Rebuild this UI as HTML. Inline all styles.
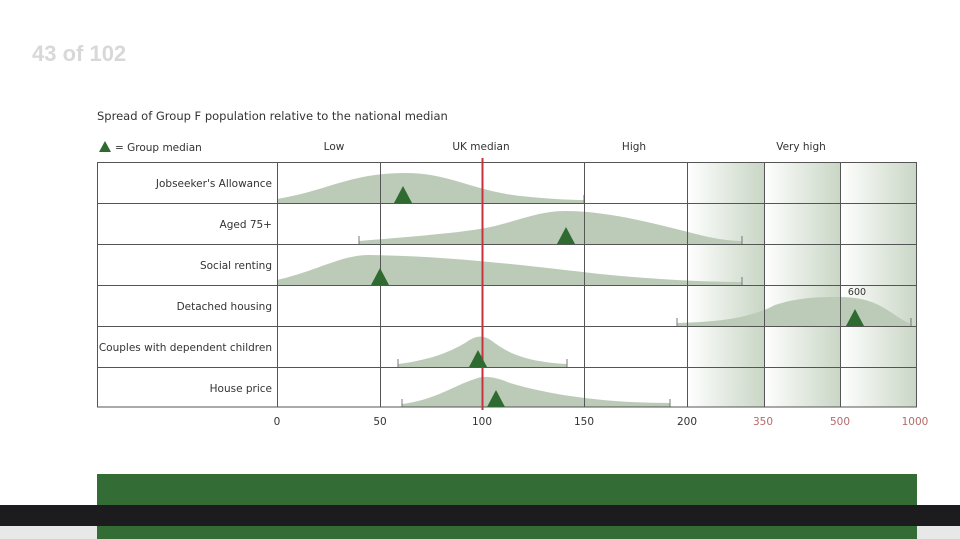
<!DOCTYPE html>
<html><head><meta charset="utf-8"><style>
html,body{margin:0;padding:0;background:#fff;width:960px;height:539px;overflow:hidden}
svg{display:block}
text{font-family:"DejaVu Sans","Liberation Sans",sans-serif}
</style></head><body>
<svg width="960" height="539" viewBox="0 0 960 539" xmlns="http://www.w3.org/2000/svg">
<defs>
<linearGradient id="g" x1="0" x2="1" y1="0" y2="0">
<stop offset="0" stop-color="#ffffff"/><stop offset="1" stop-color="#c9d6c5"/>
</linearGradient>
</defs>
<text x="32" y="61" font-size="22" fill="#d8d8d8" style="font-family:'Liberation Sans',sans-serif;font-weight:bold">43 of 102</text>
<text x="97" y="120" font-size="11.5" fill="#333">Spread of Group F population relative to the national median</text>
<polygon points="99,152 105,141 111,152" fill="#2f6b30"/>
<text x="115" y="151" font-size="10.5" fill="#333">= Group median</text>
<text x="334" y="150" font-size="10.5" fill="#333" text-anchor="middle">Low</text>
<text x="481" y="150" font-size="10.5" fill="#333" text-anchor="middle">UK median</text>
<text x="634" y="150" font-size="10.5" fill="#333" text-anchor="middle">High</text>
<text x="801" y="150" font-size="10.5" fill="#333" text-anchor="middle">Very high</text>
<rect x="687" y="162" width="77" height="245" fill="url(#g)"/>
<rect x="764" y="162" width="76" height="245" fill="url(#g)"/>
<rect x="840" y="162" width="77" height="245" fill="url(#g)"/>
<g fill="#bccbb8">
<path d="M277,203 L277,199 C330,190 350,173 405,173 C450,173 470,190 520,196 C550,199 570,200 584,200 L584,203 Z"/>
<path d="M359,244 L359,241 C420,236 470,232 495,226 C520,220 540,211 565,211 C610,211 660,225 700,235 C720,240 735,241 742,241 L742,244 Z"/>
<path d="M277,285 L277,280 C320,270 340,255 370,255 C450,256 520,265 600,274 C670,281 720,282 742,282 L742,285 Z"/>
<path d="M677,326 L677,323 C720,322 750,318 775,305 C800,297 820,297 840,297 C880,297 890,315 911,324 L911,326 Z"/>
<path d="M398,367 L398,364 C430,360 450,352 465,343 C475,336 482,334 492,341 C510,355 530,362 567,364 L567,367 Z"/>
<path d="M402,407 L402,404 C435,400 455,385 475,379 C485,375 495,377 510,383 C560,398 620,403 670,403 L670,407 Z"/>
</g>
<g stroke="#777" stroke-width="1">
<line x1="584" y1="195" x2="584" y2="203"/>
<line x1="359" y1="236" x2="359" y2="244"/><line x1="742" y1="236" x2="742" y2="244"/>
<line x1="742" y1="277" x2="742" y2="285"/>
<line x1="677" y1="318" x2="677" y2="326"/><line x1="911" y1="318" x2="911" y2="326"/>
<line x1="398" y1="359" x2="398" y2="367"/><line x1="567" y1="359" x2="567" y2="367"/>
<line x1="402" y1="399" x2="402" y2="407"/><line x1="670" y1="399" x2="670" y2="407"/>
</g>
<g stroke="#555" stroke-width="1" fill="none">
<rect x="97.5" y="162.5" width="819" height="244.5"/>
<line x1="97" y1="203.5" x2="917" y2="203.5"/>
<line x1="97" y1="244.5" x2="917" y2="244.5"/>
<line x1="97" y1="285.5" x2="917" y2="285.5"/>
<line x1="97" y1="326.5" x2="917" y2="326.5"/>
<line x1="97" y1="367.5" x2="917" y2="367.5"/>
<line x1="277.5" y1="162" x2="277.5" y2="407"/>
<line x1="380.5" y1="162" x2="380.5" y2="407"/>
<line x1="584.5" y1="162" x2="584.5" y2="407"/>
<line x1="687.5" y1="162" x2="687.5" y2="407"/>
<line x1="764.5" y1="162" x2="764.5" y2="407"/>
<line x1="840.5" y1="162" x2="840.5" y2="407"/>
</g>
<line x1="482.5" y1="158" x2="482.5" y2="410" stroke="#c8323c" stroke-width="2"/>
<g fill="#2f6b30">
<polygon points="394,203 403,186 412,203"/>
<polygon points="557,244 566,227 575,244"/>
<polygon points="371,285 380,268 389,285"/>
<polygon points="846,326 855,309 864,326"/>
<polygon points="469,367 478,350 487,367"/>
<polygon points="487,407 496,390 505,407"/>
</g>
<text x="857" y="295" font-size="9.5" fill="#333" text-anchor="middle">600</text>
<g font-size="10.5" fill="#333" text-anchor="end">
<text x="272" y="187">Jobseeker's Allowance</text>
<text x="272" y="228">Aged 75+</text>
<text x="272" y="269">Social renting</text>
<text x="272" y="310">Detached housing</text>
<text x="272" y="351">Couples with dependent children</text>
<text x="272" y="392">House price</text>
</g>
<g font-size="10.5" text-anchor="middle">
<text x="277" y="425" fill="#333">0</text>
<text x="380" y="425" fill="#333">50</text>
<text x="482" y="425" fill="#333">100</text>
<text x="584" y="425" fill="#333">150</text>
<text x="687" y="425" fill="#333">200</text>
<text x="763" y="425" fill="#b56a6a">350</text>
<text x="840" y="425" fill="#b56a6a">500</text>
<text x="915" y="425" fill="#b56a6a">1000</text>
</g>
<rect x="0" y="526" width="960" height="13" fill="#e8e8e8"/>
<rect x="97" y="474" width="820" height="65" fill="#346c35"/>
<rect x="0" y="505" width="960" height="21" fill="#1c1c1e"/>
</svg>
</body></html>
